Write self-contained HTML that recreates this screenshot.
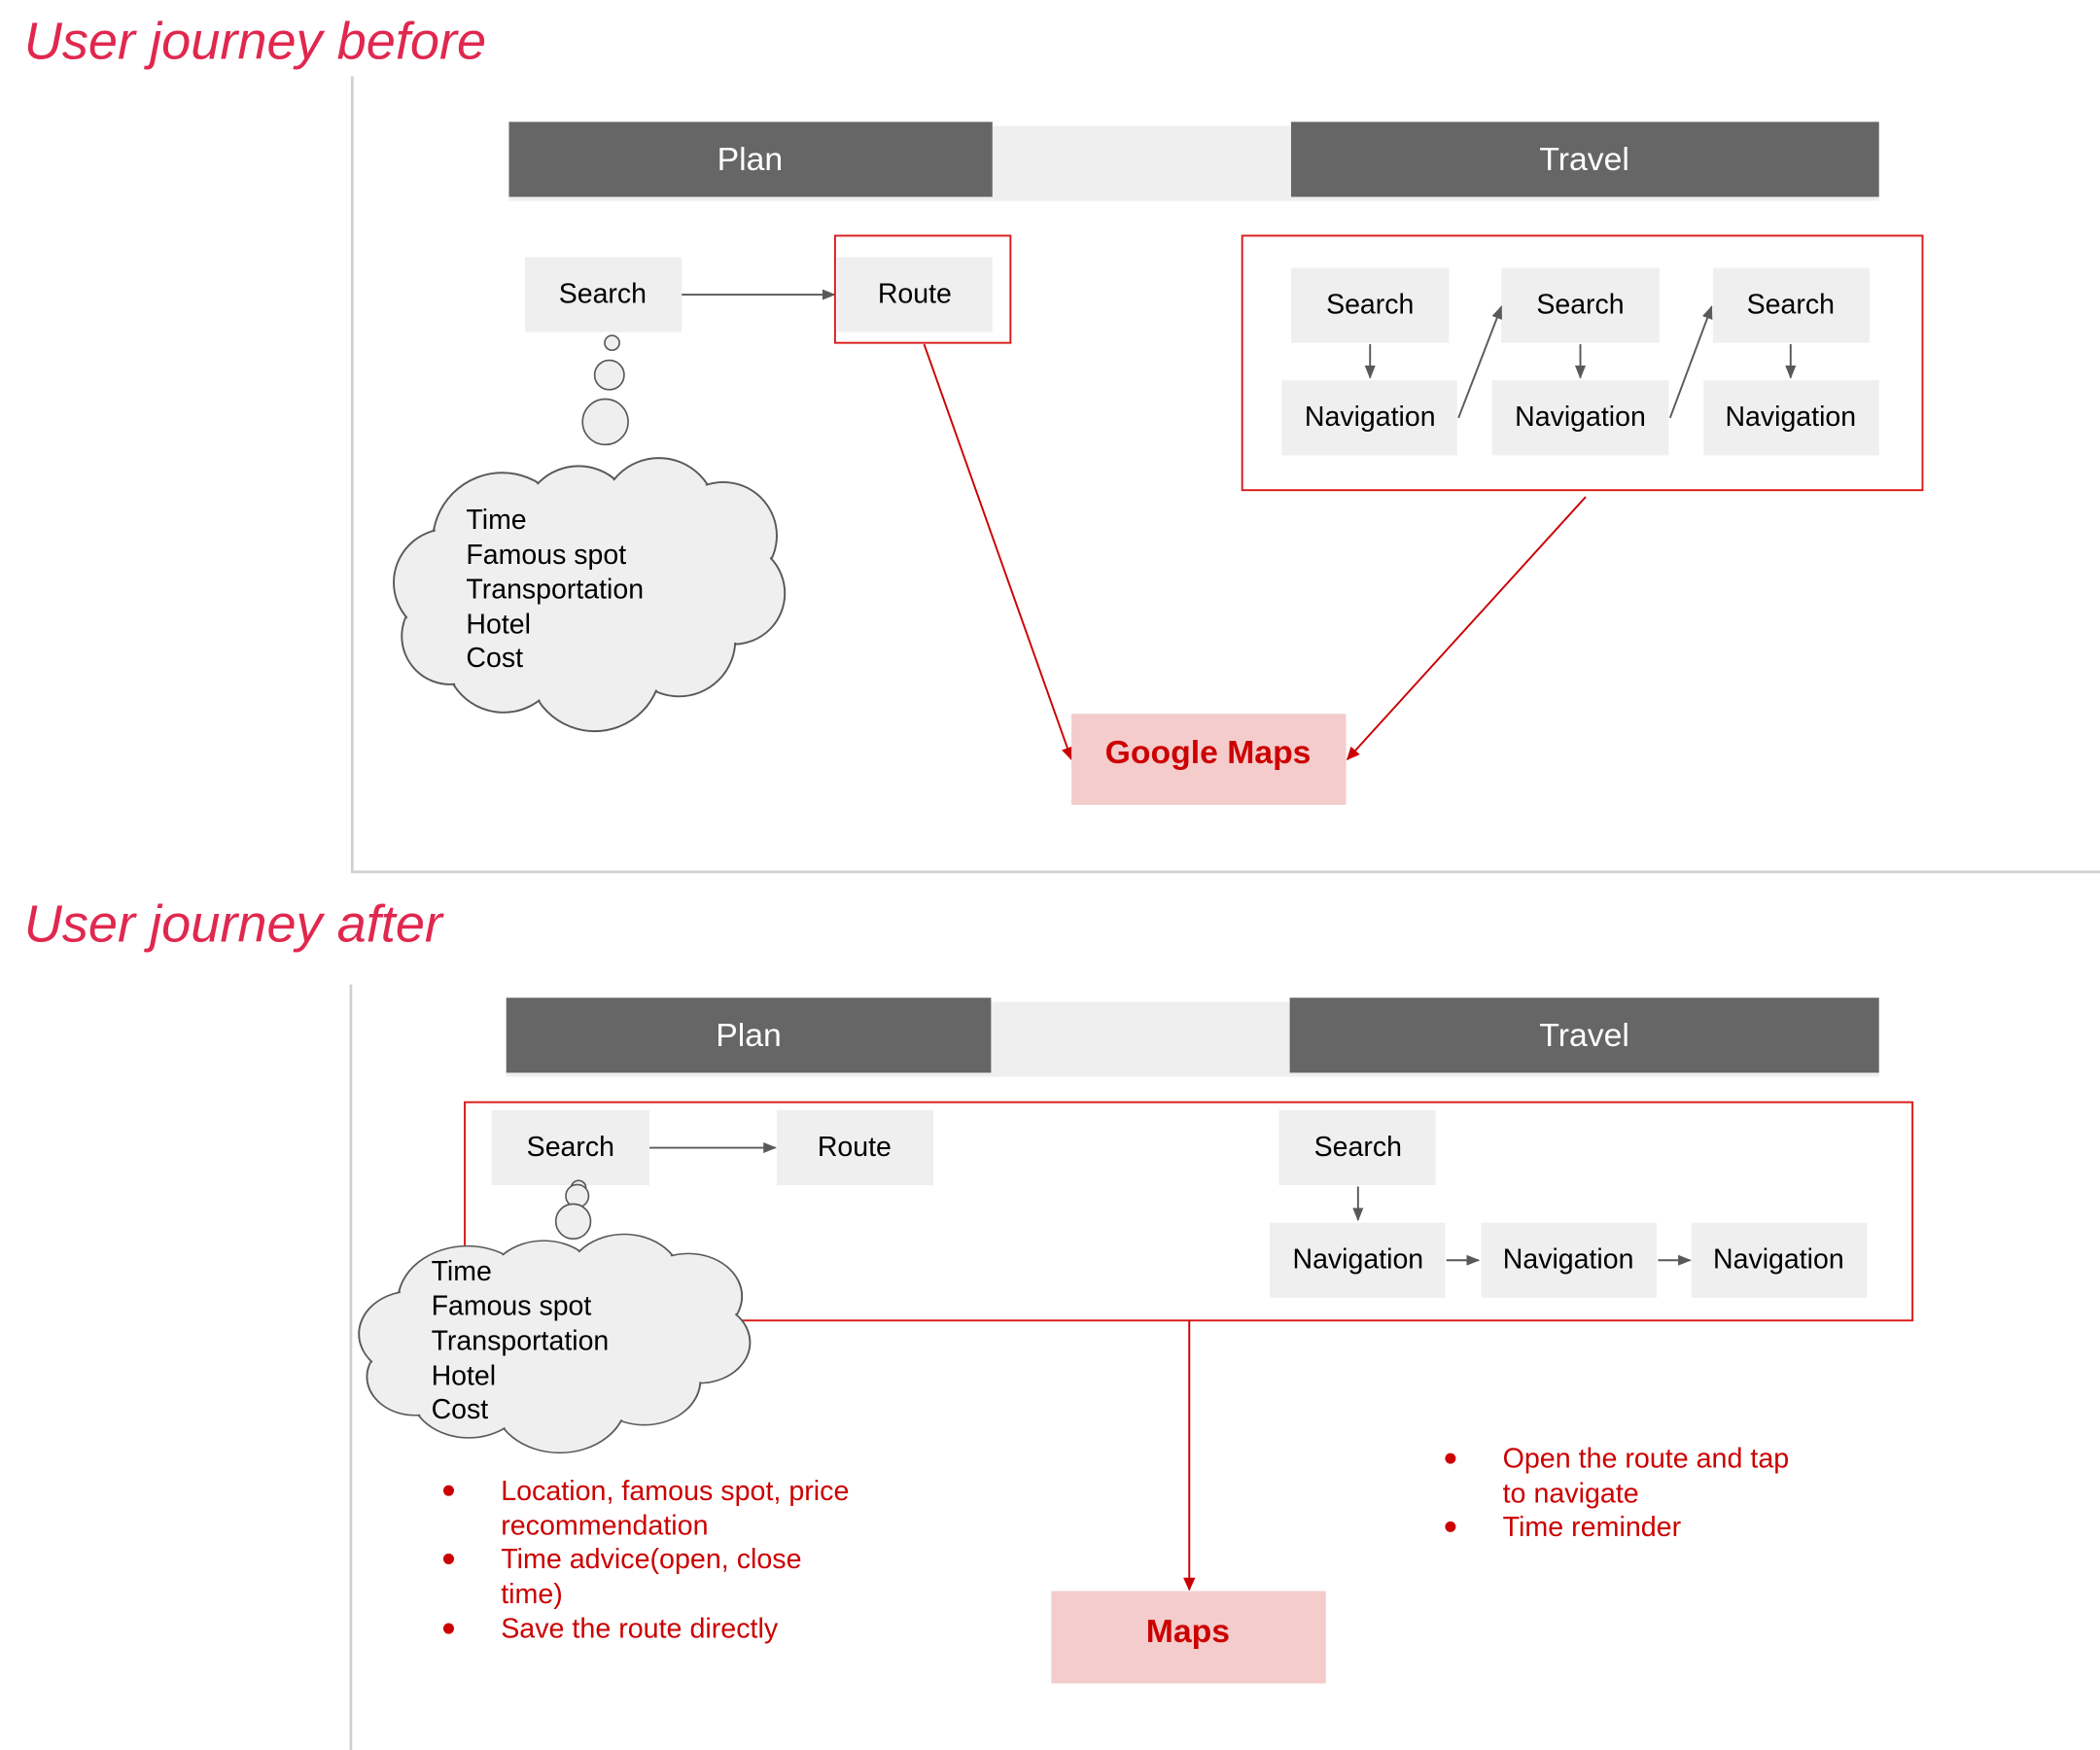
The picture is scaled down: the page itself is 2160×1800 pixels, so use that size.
<!DOCTYPE html>
<html><head><meta charset="utf-8"><style>
html,body{margin:0;padding:0;background:#fff;width:2160px;height:1800px;overflow:hidden}
svg{display:block}
text{font-family:"Liberation Sans",Arial,sans-serif}
</style></head><body>
<svg width="2160" height="1800" viewBox="0 0 1568 1306.7" preserveAspectRatio="none" xmlns="http://www.w3.org/2000/svg">
<defs>
<marker id="ag" markerWidth="10" markerHeight="8" refX="9" refY="4" orient="auto" markerUnits="userSpaceOnUse"><path d="M0,0 L10,4 L0,8 z" fill="#595959"/></marker>
<marker id="ar" markerWidth="10" markerHeight="9" refX="9" refY="4.5" orient="auto" markerUnits="userSpaceOnUse"><path d="M0,0 L10,4.5 L0,9 z" fill="#cc0000"/></marker>
<g id="cloud">
<g fill="#efefef" stroke="#595959" stroke-width="1.4">
<circle cx="375" cy="405" r="52"/><circle cx="432" cy="390" r="42"/><circle cx="492" cy="385" r="43"/><circle cx="540" cy="400" r="40"/><circle cx="548" cy="443" r="38"/><circle cx="507" cy="478" r="42"/><circle cx="444" cy="496" r="50"/><circle cx="376" cy="488" r="44"/><circle cx="336" cy="475" r="36"/><circle cx="334" cy="435" r="40"/><circle cx="450" cy="440" r="70"/>
</g>
<g fill="#efefef">
<circle cx="375" cy="405" r="50.8"/><circle cx="432" cy="390" r="40.8"/><circle cx="492" cy="385" r="41.8"/><circle cx="540" cy="400" r="38.8"/><circle cx="548" cy="443" r="36.8"/><circle cx="507" cy="478" r="40.8"/><circle cx="444" cy="496" r="48.8"/><circle cx="376" cy="488" r="42.8"/><circle cx="336" cy="475" r="34.8"/><circle cx="334" cy="435" r="38.8"/><circle cx="450" cy="440" r="68.8"/>
</g>
</g>
</defs>

<text x="18" y="44" font-size="39.3" font-style="italic" fill="#e0284f">User journey before</text>
<text x="18" y="703" font-size="39.3" font-style="italic" fill="#e0284f">User journey after</text>

<path d="M263,57 V651 H1568" fill="none" stroke="#d0d0d0" stroke-width="2"/>
<path d="M262,735 V1307" fill="none" stroke="#d0d0d0" stroke-width="2"/>

<rect x="380" y="94" width="1023" height="56" fill="#efefef"/>
<rect x="380" y="91" width="361" height="56" fill="#666"/>
<rect x="964" y="91" width="439" height="56" fill="#666"/>
<text x="560" y="127" font-size="24.5" fill="#fff" text-anchor="middle">Plan</text>
<text x="1183" y="127" font-size="24.5" fill="#fff" text-anchor="middle">Travel</text>

<rect x="392" y="192" width="117" height="56" fill="#efefef"/>
<text x="450" y="226" font-size="20.7" text-anchor="middle">Search</text>
<line x1="509" y1="220" x2="623" y2="220" stroke="#595959" stroke-width="1.4" marker-end="url(#ag)"/>
<rect x="625" y="192" width="116" height="56" fill="#efefef"/>
<text x="683" y="226" font-size="20.7" text-anchor="middle">Route</text>
<rect x="623.5" y="176" width="131" height="80" fill="none" stroke="#d91b1b" stroke-width="1.4"/>

<circle cx="457" cy="256" r="5.5" fill="#efefef" stroke="#595959" stroke-width="1.2"/>
<circle cx="455" cy="280" r="11" fill="#efefef" stroke="#595959" stroke-width="1.2"/>
<circle cx="452" cy="315" r="17" fill="#efefef" stroke="#595959" stroke-width="1.2"/>
<use href="#cloud"/>
<g font-size="20.7" fill="#000">
<text x="348" y="395">Time</text><text x="348" y="421">Famous spot</text><text x="348" y="447">Transportation</text><text x="348" y="473">Hotel</text><text x="348" y="498">Cost</text>
</g>

<rect x="927.5" y="176" width="508" height="190" fill="none" stroke="#d91b1b" stroke-width="1.4"/>
<g fill="#efefef">
<rect x="964" y="200" width="118" height="56"/><rect x="1121" y="200" width="118" height="56"/><rect x="1279" y="200" width="117" height="56"/>
<rect x="957" y="284" width="131" height="56"/><rect x="1114" y="284" width="132" height="56"/><rect x="1272" y="284" width="131" height="56"/>
</g>
<g font-size="20.7" text-anchor="middle">
<text x="1023" y="234">Search</text><text x="1180" y="234">Search</text><text x="1337" y="234">Search</text>
<text x="1023" y="318">Navigation</text><text x="1180" y="318">Navigation</text><text x="1337" y="318">Navigation</text>
</g>
<g stroke="#595959" stroke-width="1.4" marker-end="url(#ag)">
<line x1="1023" y1="257" x2="1023" y2="282"/><line x1="1180" y1="257" x2="1180" y2="282"/><line x1="1337" y1="257" x2="1337" y2="282"/>
<line x1="1089" y1="312" x2="1121" y2="229"/><line x1="1247" y1="312" x2="1278" y2="229"/>
</g>

<line x1="690" y1="257" x2="800" y2="567" stroke="#cc0000" stroke-width="1.4" marker-end="url(#ar)"/>
<line x1="1184" y1="371" x2="1006" y2="567" stroke="#cc0000" stroke-width="1.4" marker-end="url(#ar)"/>
<rect x="800" y="533" width="205" height="68" fill="#f4cccc"/>
<text x="902" y="570" font-size="24.5" font-weight="bold" fill="#cc0000" text-anchor="middle">Google Maps</text>

<rect x="378" y="748" width="1025" height="56" fill="#efefef"/>
<rect x="378" y="745" width="362" height="56" fill="#666"/>
<rect x="963" y="745" width="440" height="56" fill="#666"/>
<text x="559" y="781" font-size="24.5" fill="#fff" text-anchor="middle">Plan</text>
<text x="1183" y="781" font-size="24.5" fill="#fff" text-anchor="middle">Travel</text>

<rect x="347" y="823" width="1081" height="163" fill="none" stroke="#d91b1b" stroke-width="1.4"/>
<rect x="367" y="829" width="118" height="56" fill="#efefef"/>
<text x="426" y="863" font-size="20.7" text-anchor="middle">Search</text>
<line x1="485" y1="857" x2="579" y2="857" stroke="#595959" stroke-width="1.4" marker-end="url(#ag)"/>
<rect x="580" y="829" width="117" height="56" fill="#efefef"/>
<text x="638" y="863" font-size="20.7" text-anchor="middle">Route</text>

<rect x="955" y="829" width="117" height="56" fill="#efefef"/>
<text x="1014" y="863" font-size="20.7" text-anchor="middle">Search</text>
<g fill="#efefef">
<rect x="948" y="913" width="131" height="56"/><rect x="1106" y="913" width="131" height="56"/><rect x="1263" y="913" width="131" height="56"/>
</g>
<g font-size="20.7" text-anchor="middle">
<text x="1014" y="947">Navigation</text><text x="1171" y="947">Navigation</text><text x="1328" y="947">Navigation</text>
</g>
<g stroke="#595959" stroke-width="1.4" marker-end="url(#ag)">
<line x1="1014" y1="886" x2="1014" y2="911"/><line x1="1080" y1="941" x2="1104" y2="941"/><line x1="1238" y1="941" x2="1262" y2="941"/>
</g>

<circle cx="432" cy="887" r="5.5" fill="#efefef" stroke="#595959" stroke-width="1.2"/>
<circle cx="431" cy="893" r="8.5" fill="#efefef" stroke="#595959" stroke-width="1.2"/>
<circle cx="428" cy="912" r="13" fill="#efefef" stroke="#595959" stroke-width="1.2"/>
<g transform="translate(-26,920) scale(1,0.8) translate(0,-340)"><use href="#cloud"/></g>
<g font-size="20.7" fill="#000">
<text x="322" y="956">Time</text><text x="322" y="982">Famous spot</text><text x="322" y="1008">Transportation</text><text x="322" y="1034">Hotel</text><text x="322" y="1059">Cost</text>
</g>

<line x1="888" y1="986" x2="888" y2="1187" stroke="#cc0000" stroke-width="1.4" marker-end="url(#ar)"/>
<rect x="785" y="1188" width="205" height="69" fill="#f4cccc"/>
<text x="887" y="1226" font-size="24.5" font-weight="bold" fill="#cc0000" text-anchor="middle">Maps</text>

<g font-size="20.8" fill="#cc0000">
<circle cx="335" cy="1113" r="4"/><circle cx="335" cy="1164" r="4"/><circle cx="335" cy="1216" r="4"/>
<text x="374" y="1120">Location, famous spot, price</text>
<text x="374" y="1146">recommendation</text>
<text x="374" y="1171">Time advice(open, close</text>
<text x="374" y="1197">time)</text>
<text x="374" y="1223">Save the route directly</text>
<circle cx="1083" cy="1089" r="4"/><circle cx="1083" cy="1140" r="4"/>
<text x="1122" y="1096">Open the route and tap</text>
<text x="1122" y="1122">to navigate</text>
<text x="1122" y="1147">Time reminder</text>
</g>
</svg>
</body></html>
